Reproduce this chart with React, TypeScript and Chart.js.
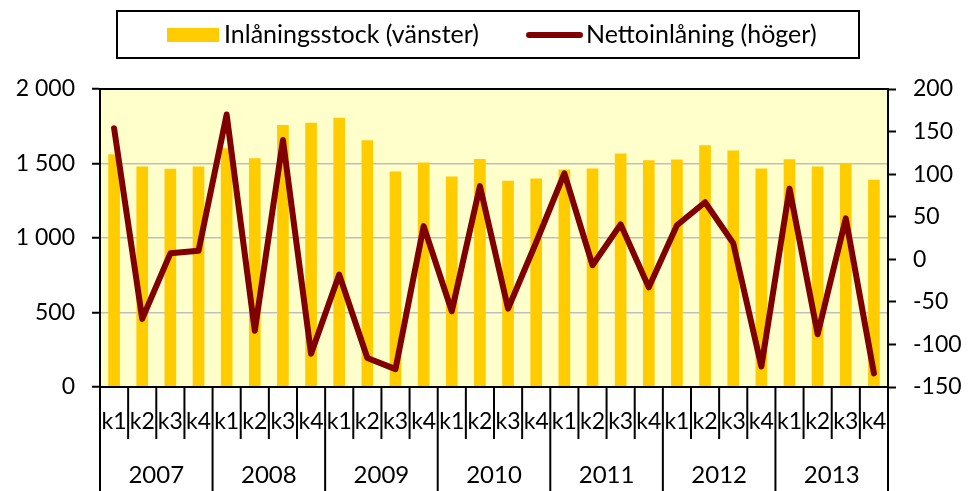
import { useEffect, useRef } from "react";
import { Chart, registerables } from "chart.js";

Chart.register(...registerables);

const quarters = ["k1", "k2", "k3", "k4"];
const years = ["2007", "2008", "2009", "2010", "2011", "2012", "2013"];
const categories = years.flatMap((y) => quarters.map((q) => `${y} ${q}`));

// Inlåningsstock (vänster), left axis
const depositStock = [
  1562, 1480, 1464, 1480,
  1602, 1535, 1758, 1773,
  1807, 1656, 1447, 1507,
  1413, 1531, 1384, 1400,
  1460, 1467, 1567, 1522,
  1527, 1622, 1587, 1467,
  1529, 1480, 1502, 1391,
];

// Nettoinlåning (höger), right axis
const netDeposits = [
  154, -70, 7, 10,
  170, -84, 140, -111,
  -18, -116, -129, 39,
  -61, 86, -58, 20,
  101, -7, 41, -33,
  40, 67, 19, -126,
  83, -88, 48, -134,
];

const seriesLabels = ["Inlåningsstock (vänster)", "Nettoinlåning (höger)"];
const leftAxis = { min: 0, max: 2000, step: 500 };
const rightAxis = { min: -150, max: 200, step: 50 };

const FONT = "Lato, 'Noto Sans', sans-serif";
const BAR_COLOR = "#FFCC00";
const LINE_COLOR = "#800000";
const PLOT_BG = "#FFFFCC";

const fmt = (v: number) => String(v).replace(/\B(?=(\d{3})+(?!\d))/g, " ");

const decorPlugin = {
  id: "decor",
  beforeDraw(chart: any) {
    const { ctx, chartArea, width, height } = chart;
    ctx.save();
    ctx.fillStyle = "#ffffff";
    ctx.fillRect(0, 0, width, height);
    ctx.fillStyle = PLOT_BG;
    ctx.fillRect(chartArea.left, chartArea.top, chartArea.right - chartArea.left, chartArea.bottom - chartArea.top);
    ctx.restore();
  },
  afterDraw(chart: any) {
    const { ctx, chartArea, height } = chart;
    const x = chart.scales.x;
    ctx.save();
    // plot border
    ctx.strokeStyle = "#000000";
    ctx.lineWidth = 2;
    ctx.strokeRect(chartArea.left, chartArea.top, chartArea.right - chartArea.left, chartArea.bottom - chartArea.top);

    // x-axis multi-level labels
    const n = categories.length;
    const half = (x.getPixelForValue(1) - x.getPixelForValue(0)) / 2;
    ctx.lineWidth = 2;
    ctx.strokeStyle = "#000000";
    for (let i = 0; i <= n; i++) {
      const px = i < n ? x.getPixelForValue(i) - half : x.getPixelForValue(n - 1) + half;
      const isYear = i % quarters.length === 0;
      ctx.beginPath();
      ctx.moveTo(px, chartArea.bottom);
      ctx.lineTo(px, isYear ? height : chartArea.bottom + 52);
      ctx.stroke();
    }
    ctx.fillStyle = "#000000";
    ctx.font = `23px ${FONT}`;
    ctx.textAlign = "center";
    ctx.textBaseline = "middle";
    for (let i = 0; i < n; i++) {
      ctx.fillText(quarters[i % quarters.length], x.getPixelForValue(i), chartArea.bottom + 35);
    }
    ctx.font = `24px ${FONT}`;
    years.forEach((y, j) => {
      const a = x.getPixelForValue(j * 4);
      const b = x.getPixelForValue(j * 4 + 3);
      ctx.fillText(y, (a + b) / 2, chartArea.bottom + 88);
    });

    // legend
    ctx.lineWidth = 2;
    ctx.strokeRect(117, 11, 742, 47);
    ctx.fillStyle = BAR_COLOR;
    ctx.fillRect(167, 28, 52, 14);
    ctx.strokeStyle = LINE_COLOR;
    ctx.lineWidth = 6;
    ctx.lineCap = "round";
    ctx.beginPath();
    ctx.moveTo(529, 35);
    ctx.lineTo(580, 35);
    ctx.stroke();
    ctx.fillStyle = "#000000";
    ctx.font = `25px ${FONT}`;
    ctx.textAlign = "left";
    ctx.textBaseline = "middle";
    ctx.fillText(seriesLabels[0], 224, 35);
    ctx.fillText(seriesLabels[1], 586, 35);
    ctx.restore();
  },
};

export default function App() {
  const ref = useRef<HTMLCanvasElement | null>(null);
  useEffect(() => {
    document.body.style.margin = "0";
    const canvas = ref.current;
    if (!canvas) return;
    const chart = new Chart(canvas, {
      type: "bar",
      data: {
        labels: categories,
        datasets: [
          {
            type: "line",
            label: seriesLabels[1],
            data: netDeposits,
            yAxisID: "y1",
            borderColor: LINE_COLOR,
            backgroundColor: LINE_COLOR,
            borderWidth: 6,
            pointRadius: 0,
            tension: 0,
            borderCapStyle: "round",
            borderJoinStyle: "round",
            order: 0,
          } as any,
          {
            type: "bar",
            label: seriesLabels[0],
            data: depositStock,
            yAxisID: "y",
            backgroundColor: BAR_COLOR,
            borderWidth: 0,
            categoryPercentage: 1,
            barPercentage: 0.415,
            order: 1,
          } as any,
        ],
      },
      options: {
        responsive: false,
        animation: false,
        layout: { padding: { top: 89, left: 0, right: 0, bottom: 0 } },
        plugins: { legend: { display: false }, tooltip: { enabled: false } },
        scales: {
          x: {
            type: "category",
            ticks: { display: false },
            grid: { display: false },
            border: { color: "#000000", width: 2 },
            afterFit: (s: any) => {
              s.height = 104;
            },
          },
          y: {
            position: "left",
            min: leftAxis.min,
            max: leftAxis.max,
            ticks: {
              stepSize: leftAxis.step,
              padding: 17,
              color: "#000000",
              font: { family: FONT, size: 23 },
              callback: (v: any) => fmt(Number(v)),
            },
            grid: { color: "#bfbfbf", lineWidth: 1.5, tickColor: "#000000", tickLength: 8, tickWidth: 2 },
            border: { color: "#000000", width: 2 },
            afterFit: (s: any) => {
              s.width = 100;
            },
          },
          y1: {
            position: "right",
            min: rightAxis.min,
            max: rightAxis.max,
            ticks: {
              stepSize: rightAxis.step,
              padding: 17,
              color: "#000000",
              font: { family: FONT, size: 23 },
            },
            grid: { drawOnChartArea: false, tickColor: "#000000", tickLength: 8, tickWidth: 2 },
            border: { color: "#000000", width: 2 },
            afterFit: (s: any) => {
              s.width = 85;
            },
          },
        },
      },
      plugins: [decorPlugin],
    });
    return () => chart.destroy();
  }, []);
  return <canvas ref={ref} width={973} height={491} style={{ display: "block" }} />;
}
